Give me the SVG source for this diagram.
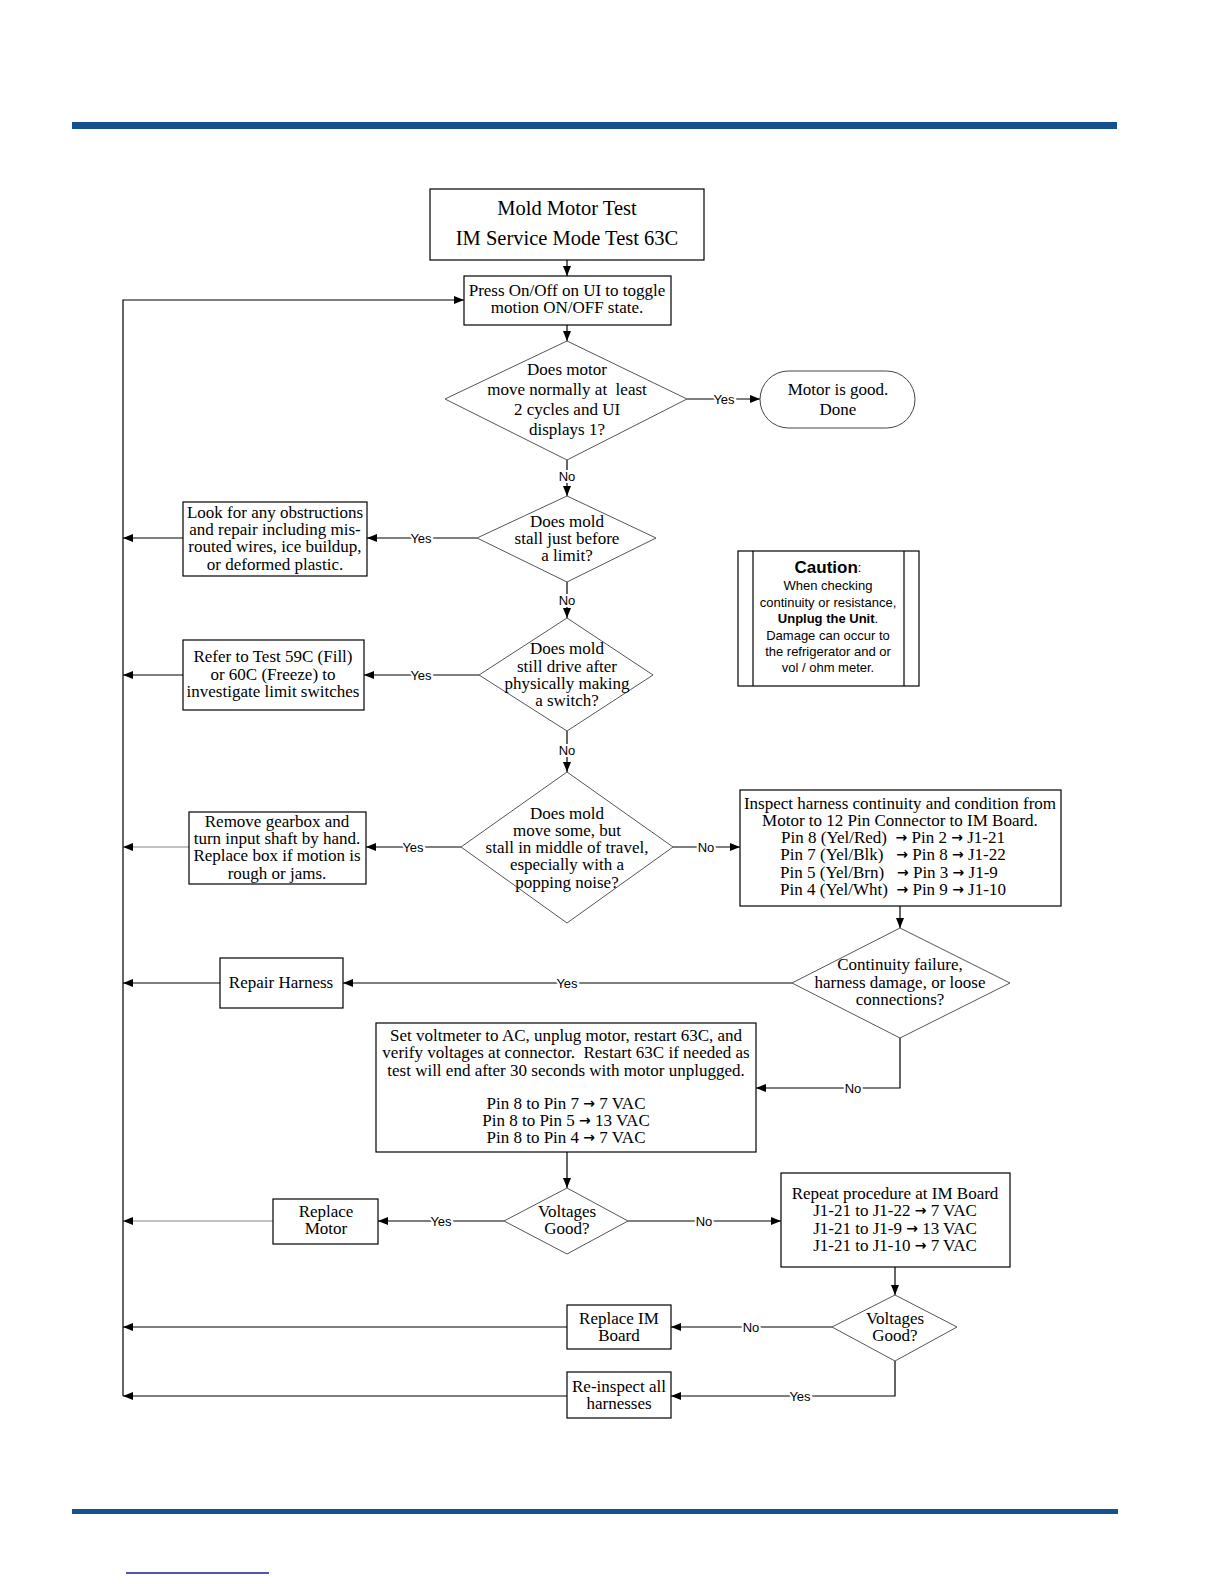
<svg xmlns="http://www.w3.org/2000/svg" width="1224" height="1584" viewBox="0 0 1224 1584">
<defs>
<marker id="ah" markerWidth="10" markerHeight="8" refX="10" refY="4" orient="auto" markerUnits="userSpaceOnUse">
<path d="M0,0 L10,4 L0,8 Z" fill="#000"/>
</marker>
<style>
.box{fill:#fff;stroke:#000;stroke-width:1.2}
.dia{fill:#fff;stroke:#555;stroke-width:1}
.t{font-family:"Liberation Serif","Times New Roman",serif;font-size:17px;fill:#000;text-anchor:middle;dominant-baseline:central}
.tt{font-family:"Liberation Serif","Times New Roman",serif;font-size:20.5px;fill:#000;text-anchor:middle;dominant-baseline:central}
.c{font-family:"Liberation Sans",Arial,sans-serif;font-size:13px;fill:#000;text-anchor:middle;dominant-baseline:central}
.lbl{font-family:"Liberation Sans",Arial,sans-serif;font-size:13px;fill:#000;text-anchor:middle;dominant-baseline:central;stroke:#fff;stroke-width:4;paint-order:stroke}
.ar{font-family:"DejaVu Sans",sans-serif;font-weight:bold;font-size:14px}
.ln{fill:none;stroke:#000;stroke-width:1.2}
.lg{fill:none;stroke:#888;stroke-width:1.2}
</style>
</defs>
<rect x="72" y="122" width="1045" height="7" fill="#15508f"/>
<rect x="72" y="1509" width="1046" height="5" fill="#15508f"/>
<line x1="126" y1="1573" x2="269" y2="1573" stroke="#1a1a9a" stroke-width="1.5"/>

<g id="connectors">
<path class="ln" d="M567,260 V276" marker-end="url(#ah)"/>
<path class="ln" d="M567,325 V341" marker-end="url(#ah)"/>
<path class="ln" d="M687,399 H760" marker-end="url(#ah)"/>
<path class="ln" d="M567,460 V496" marker-end="url(#ah)"/>
<path class="ln" d="M477,538 H367" marker-end="url(#ah)"/>
<path class="ln" d="M183,538 H123" marker-end="url(#ah)"/>
<path class="ln" d="M567,582 V618" marker-end="url(#ah)"/>
<path class="ln" d="M479,675 H364" marker-end="url(#ah)"/>
<path class="ln" d="M183,675 H123" marker-end="url(#ah)"/>
<path class="ln" d="M567,731 V772" marker-end="url(#ah)"/>
<path class="ln" d="M461,847 H366" marker-end="url(#ah)"/>
<path class="lg" d="M189,847 H123" marker-end="url(#ah)"/>
<path class="ln" d="M673,847 H740" marker-end="url(#ah)"/>
<path class="ln" d="M900,906 V928" marker-end="url(#ah)"/>
<path class="ln" d="M792,983 H343" marker-end="url(#ah)"/>
<path class="ln" d="M220,983 H123" marker-end="url(#ah)"/>
<path class="ln" d="M900,1038 V1088 H756" marker-end="url(#ah)"/>
<path class="ln" d="M567,1152 V1188" marker-end="url(#ah)"/>
<path class="ln" d="M504,1221 H378" marker-end="url(#ah)"/>
<path class="lg" d="M273,1221 H123" marker-end="url(#ah)"/>
<path class="ln" d="M628,1221 H781" marker-end="url(#ah)"/>
<path class="ln" d="M895,1267 V1295" marker-end="url(#ah)"/>
<path class="ln" d="M832,1327 H671" marker-end="url(#ah)"/>
<path class="ln" d="M567,1327 H123" marker-end="url(#ah)"/>
<path class="ln" d="M895,1361 V1396 H671" marker-end="url(#ah)"/>
<path class="ln" d="M567,1396 H123" marker-end="url(#ah)"/>
<path class="ln" d="M123,1396 V300 H464" marker-end="url(#ah)"/>
<text class="lbl" x="724" y="399">Yes</text>
<text class="lbl" x="567" y="476">No</text>
<text class="lbl" x="421" y="538">Yes</text>
<text class="lbl" x="567" y="600">No</text>
<text class="lbl" x="421" y="675">Yes</text>
<text class="lbl" x="567" y="750">No</text>
<text class="lbl" x="413" y="847">Yes</text>
<text class="lbl" x="706" y="847">No</text>
<text class="lbl" x="567" y="983">Yes</text>
<text class="lbl" x="853" y="1088">No</text>
<text class="lbl" x="441" y="1221">Yes</text>
<text class="lbl" x="704" y="1221">No</text>
<text class="lbl" x="751" y="1327">No</text>
<text class="lbl" x="800" y="1396">Yes</text>
</g>

<g id="title">
<rect class="box" x="430" y="189" width="274" height="71"/>
<text class="tt" x="567" y="208">Mold Motor Test</text>
<text class="tt" x="567" y="238">IM Service Mode Test 63C</text>
</g>
<g id="press">
<rect class="box" x="464" y="276" width="207" height="49"/>
<text class="t" x="567" y="290">Press On/Off on UI to toggle</text>
<text class="t" x="567" y="307">motion ON/OFF state.</text>
</g>
<g id="d1">
<polygon class="dia" points="567,341 687,399 567,460 445,399"/>
<text class="t" x="567" y="369">Does motor</text>
<text class="t" x="567" y="389" xml:space="preserve">move normally at  least</text>
<text class="t" x="567" y="409">2 cycles and UI</text>
<text class="t" x="567" y="429">displays 1?</text>
</g>
<g id="good">
<rect class="box" x="760" y="371" width="155" height="57" rx="28.5" ry="28.5" style="stroke:#444;stroke-width:1"/>
<text class="t" x="838" y="389">Motor is good.</text>
<text class="t" x="838" y="409">Done</text>
</g>
<g id="d2">
<polygon class="dia" points="567,496 656,538 567,582 477,538"/>
<text class="t" x="567" y="521">Does mold</text>
<text class="t" x="567" y="538">stall just before</text>
<text class="t" x="567" y="555">a limit?</text>
</g>
<g id="look">
<rect class="box" x="183" y="502" width="184" height="74"/>
<text class="t" x="275" y="512">Look for any obstructions</text>
<text class="t" x="275" y="529">and repair including mis-</text>
<text class="t" x="275" y="546">routed wires, ice buildup,</text>
<text class="t" x="275" y="564">or deformed plastic.</text>
</g>
<g id="d3">
<polygon class="dia" points="567,618 653,675 567,731 479,675"/>
<text class="t" x="567" y="648">Does mold</text>
<text class="t" x="567" y="666">still drive after</text>
<text class="t" x="567" y="683">physically making</text>
<text class="t" x="567" y="700">a switch?</text>
</g>
<g id="refer">
<rect class="box" x="183" y="640" width="181" height="70"/>
<text class="t" x="273" y="656">Refer to Test 59C (Fill)</text>
<text class="t" x="273" y="674">or 60C (Freeze) to</text>
<text class="t" x="273" y="691">investigate limit switches</text>
</g>
<g id="caution">
<rect x="738" y="551" width="181" height="135" fill="#fff" stroke="#000" stroke-width="1.2"/>
<line x1="753" y1="551" x2="753" y2="686" stroke="#000" stroke-width="1.2"/>
<line x1="904" y1="551" x2="904" y2="686" stroke="#000" stroke-width="1.2"/>
<text class="c" x="828" y="567"><tspan font-weight="bold" font-size="17">Caution</tspan>:</text>
<text class="c" x="828" y="585">When checking</text>
<text class="c" x="828" y="602">continuity or resistance,</text>
<text class="c" x="828" y="618"><tspan font-weight="bold">Unplug the Unit</tspan>.</text>
<text class="c" x="828" y="635">Damage can occur to</text>
<text class="c" x="828" y="651">the refrigerator and or</text>
<text class="c" x="828" y="667">vol / ohm meter.</text>
</g>
<g id="d4">
<polygon class="dia" points="567,772 673,847 567,923 461,847"/>
<text class="t" x="567" y="813">Does mold</text>
<text class="t" x="567" y="830">move some, but</text>
<text class="t" x="567" y="847">stall in middle of travel,</text>
<text class="t" x="567" y="864">especially with a</text>
<text class="t" x="567" y="882">popping noise?</text>
</g>
<g id="remove">
<rect class="box" x="189" y="812" width="177" height="72"/>
<text class="t" x="277" y="821">Remove gearbox and</text>
<text class="t" x="277" y="838">turn input shaft by hand.</text>
<text class="t" x="277" y="855">Replace box if motion is</text>
<text class="t" x="277" y="873">rough or jams.</text>
</g>
<g id="inspect">
<rect class="box" x="740" y="790" width="321" height="116"/>
<text class="t" x="900" y="803">Inspect harness continuity and condition from</text>
<text class="t" x="900" y="820">Motor to 12 Pin Connector to IM Board.</text>
<text class="t" x="893" y="837" xml:space="preserve">Pin 8 (Yel/Red)  <tspan class="ar">→</tspan> Pin 2 <tspan class="ar">→</tspan> J1-21</text>
<text class="t" x="893" y="854" xml:space="preserve">Pin 7 (Yel/Blk)   <tspan class="ar">→</tspan> Pin 8 <tspan class="ar">→</tspan> J1-22</text>
<text class="t" x="889" y="872" xml:space="preserve">Pin 5 (Yel/Brn)   <tspan class="ar">→</tspan> Pin 3 <tspan class="ar">→</tspan> J1-9</text>
<text class="t" x="893" y="889" xml:space="preserve">Pin 4 (Yel/Wht)  <tspan class="ar">→</tspan> Pin 9 <tspan class="ar">→</tspan> J1-10</text>
</g>
<g id="d5">
<polygon class="dia" points="900,928 1010,983 900,1038 792,983"/>
<text class="t" x="900" y="964">Continuity failure,</text>
<text class="t" x="900" y="982">harness damage, or loose</text>
<text class="t" x="900" y="999">connections?</text>
</g>
<g id="repair">
<rect class="box" x="220" y="958" width="123" height="50"/>
<text class="t" x="281" y="982">Repair Harness</text>
</g>
<g id="setvolt">
<rect class="box" x="376" y="1023" width="380" height="129"/>
<text class="t" x="566" y="1035">Set voltmeter to AC, unplug motor, restart 63C, and</text>
<text class="t" x="566" y="1052" xml:space="preserve">verify voltages at connector.  Restart 63C if needed as</text>
<text class="t" x="566" y="1070">test will end after 30 seconds with motor unplugged.</text>
<text class="t" x="566" y="1103">Pin 8 to Pin 7 <tspan class="ar">→</tspan> 7 VAC</text>
<text class="t" x="566" y="1120">Pin 8 to Pin 5 <tspan class="ar">→</tspan> 13 VAC</text>
<text class="t" x="566" y="1137">Pin 8 to Pin 4 <tspan class="ar">→</tspan> 7 VAC</text>
</g>
<g id="d6">
<polygon class="dia" points="567,1188 628,1221 567,1254 504,1221"/>
<text class="t" x="567" y="1211">Voltages</text>
<text class="t" x="567" y="1228">Good?</text>
</g>
<g id="replacemotor">
<rect class="box" x="273" y="1199" width="105" height="45"/>
<text class="t" x="326" y="1211">Replace</text>
<text class="t" x="326" y="1228">Motor</text>
</g>
<g id="repeat">
<rect class="box" x="781" y="1173" width="229" height="94"/>
<text class="t" x="895" y="1193">Repeat procedure at IM Board</text>
<text class="t" x="895" y="1210">J1-21 to J1-22 <tspan class="ar">→</tspan> 7 VAC</text>
<text class="t" x="895" y="1228">J1-21 to J1-9 <tspan class="ar">→</tspan> 13 VAC</text>
<text class="t" x="895" y="1245">J1-21 to J1-10 <tspan class="ar">→</tspan> 7 VAC</text>
</g>
<g id="d7">
<polygon class="dia" points="895,1295 957,1327 895,1361 832,1327"/>
<text class="t" x="895" y="1318">Voltages</text>
<text class="t" x="895" y="1335">Good?</text>
</g>
<g id="replaceim">
<rect class="box" x="567" y="1305" width="104" height="44"/>
<text class="t" x="619" y="1318">Replace IM</text>
<text class="t" x="619" y="1335">Board</text>
</g>
<g id="reinspect">
<rect class="box" x="567" y="1372" width="104" height="46"/>
<text class="t" x="619" y="1386">Re-inspect all</text>
<text class="t" x="619" y="1403">harnesses</text>
</g>
</svg>
